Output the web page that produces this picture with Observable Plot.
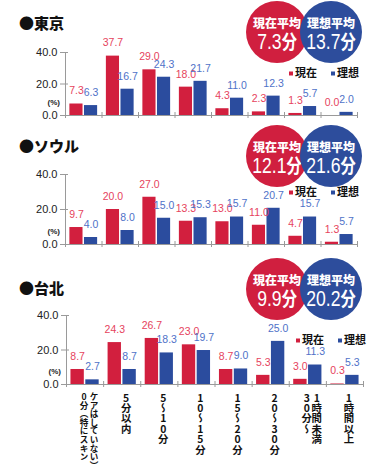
<!DOCTYPE html>
<html><head><meta charset="utf-8">
<script src="https://cdn.jsdelivr.net/npm/d3@7"></script>
<script src="https://cdn.jsdelivr.net/npm/@observablehq/plot@0.6"></script>
<style>
body{margin:0;background:#fff;}
#root{position:relative;width:372px;height:472px;overflow:hidden;font-family:"Liberation Sans","Noto Sans CJK JP",sans-serif;}
.panel{position:absolute;left:0;}
.panel svg{overflow:visible;}
.title{position:absolute;left:19px;font:900 15px "Noto Sans CJK JP";color:#111;line-height:1;transform:translateY(-50%);white-space:nowrap;}
.circle{position:absolute;width:62px;height:62px;border-radius:50%;}
.clabel{position:absolute;left:-10px;right:-10px;text-align:center;color:#fff;font:900 12px "Noto Sans CJK JP";line-height:1;transform:translateY(-50%);white-space:nowrap;}
.cnum{position:absolute;left:-20px;right:-20px;text-align:center;color:#fff;font:22px "Liberation Sans","Noto Sans CJK JP";line-height:1;transform:translateY(-50%) scaleX(0.8);white-space:nowrap;}
.cnum span{font-family:"Noto Sans CJK JP";font-weight:700;font-size:19px;}
.legend{position:absolute;font:700 11px "Noto Sans CJK JP";color:#111;line-height:1;transform:translateY(-50%);white-space:nowrap;}
.legend i{display:inline-block;width:4px;height:4px;margin-right:2px;vertical-align:middle;}
</style>
</head><body>
<div id="root"></div>
<script>
// ---- data ----
const categories = ["0分（特にスキンケアはしていない）", "5分以内", "5～10分", "10～15分", "15～20分", "20～30分", "30分～1時間未満", "1時間以上"];
const categoryLabelColumns = [["0分（特にスキン", "ケアはしていない）"], ["5分以内"], ["5～10分"], ["10～15分"], ["15～20分"], ["20～30分"], ["30分～", "1時間未満"], ["1時間以上"]];
const series = ["現在", "理想"];
const cities = ["東京", "ソウル", "台北"];
const tokyoCurrent = [7.3, 37.7, 29.0, 18.0, 4.3, 2.3, 1.3, 0.0];
const tokyoIdeal   = [6.3, 16.7, 24.3, 21.7, 11.0, 12.3, 5.7, 2.0];
const seoulCurrent = [9.7, 20.0, 27.0, 13.3, 13.0, 11.0, 4.7, 1.3];
const seoulIdeal   = [4.0, 8.0, 15.0, 15.3, 15.7, 20.7, 15.7, 5.7];
const taipeiCurrent = [8.7, 24.3, 26.7, 23.0, 8.7, 5.3, 3.0, 0.3];
const taipeiIdeal   = [2.7, 8.7, 18.3, 19.7, 9.0, 25.0, 11.3, 5.3];
const averageCurrent = [7.3, 12.1, 9.9];
const averageIdeal = [13.7, 21.6, 20.2];
const yTicks = [0, 20, 40];
const averageLabels = ["現在平均", "理想平均"];
const unit = "分";

// ---- styles ----
const barColors = {"現在": "#d21f3e", "理想": "#2b4c9e"};
const valueColors = {"現在": "#e6435d", "理想": "#4f72c8"};
const circleColors = ["#d01f3f", "#2d4d9c"];
const axisColor = "#9a9a9a";

const layouts = [
  {top: 0, height: 130, marginTop: 52, marginBottom: 15, marginLeft: 65, marginRight: 15, titleY: 22, circleY: 32, legendX: 289, legendY: 72},
  {top: 130, height: 130, marginTop: 44, marginBottom: 16, marginLeft: 65, marginRight: 15, titleY: 145, circleY: 156, legendX: 289, legendY: 191},
  {top: 260, height: 212, marginTop: 55, marginBottom: 88, marginLeft: 66, marginRight: 9, titleY: 287, circleY: 289, legendX: 296, legendY: 339}
];
const cityValues = [[tokyoCurrent, tokyoIdeal], [seoulCurrent, seoulIdeal], [taipeiCurrent, taipeiIdeal]];

const root = document.getElementById("root");
const inner = d3.scaleBand(series, [0, 1]).paddingInner(0.1).paddingOuter(0.3);

cities.forEach((city, k) => {
  const L = layouts[k];
  const [cur, ide] = cityValues[k];
  const rows = categories.flatMap((c, i) => series.map((s, j) => {
    const value = (j === 0 ? cur : ide)[i];
    const x1 = i + inner(s);
    return {category: c, i, series: s, value, x1, x2: x1 + inner.bandwidth(), xm: x1 + inner.bandwidth() / 2};
  }));
  const marks = [
    Plot.ruleX([0], {y1: 0, y2: 40, stroke: axisColor}),
    Plot.ruleY(yTicks, {x1: 0, x2: 0, insetLeft: -5, insetRight: -3, stroke: axisColor}),
    Plot.ruleY([0], {stroke: axisColor}),
    Plot.ruleX(d3.range(categories.length + 1), {y1: 0, y2: 0, insetTop: -3, insetBottom: -3, stroke: axisColor}),
    Plot.rectY(rows, {x1: "x1", x2: "x2", y1: 0, y2: "value", fill: d => barColors[d.series]}),
    Plot.text(rows, {x: "xm", y: "value", text: d => d.value.toFixed(1), dy: -13, fill: d => valueColors[d.series], fontSize: 10.5}),
    Plot.axisY({ticks: yTicks, tickSize: 0, tickPadding: 8, tickFormat: d => d.toFixed(1), fontSize: 11, fill: "#222", label: null}),
    Plot.text(["(%)"], {frameAnchor: "bottom-left", dx: -18, dy: -11, fontSize: 8, fontWeight: "bold", fill: "#222"})
  ];
  if (k === cities.length - 1) {
    const labelRows = categoryLabelColumns.flatMap((cols, i) => cols.map((text, j) => ({i, text, off: cols.length === 1 ? 4 : j * 10 - 1})));
    for (const off of [-1, 4, 9]) {
      marks.push(Plot.text(labelRows.filter(d => d.off === off), {
        x: d => d.i + 0.5, text: "text", frameAnchor: "bottom", dy: 8, dx: off,
        textAnchor: "start", lineAnchor: "bottom", fontSize: d => d.i === 0 ? 8.6 : 10.4, fontWeight: "bold", fill: "#111",
        ariaDescription: "category labels"
      }));
    }
  }
  const svg = Plot.plot({
    width: 372, height: L.height,
    marginTop: L.marginTop, marginBottom: L.marginBottom, marginLeft: L.marginLeft, marginRight: L.marginRight,
    x: {domain: [0, categories.length], axis: null},
    y: {domain: [0, 40], axis: null},
    style: {fontFamily: "'Liberation Sans', 'Noto Sans CJK JP', sans-serif", fontSize: "10px", background: "transparent", overflow: "visible"},
    marks
  });
  svg.querySelectorAll('g[aria-description="category labels"] text').forEach(t => {
    t.style.writingMode = "vertical-rl";
    t.style.textOrientation = "upright";
    t.style.fontFamily = "'Noto Sans CJK JP'";
  });
  const wrap = document.createElement("div");
  wrap.className = "panel";
  wrap.style.top = L.top + "px";
  wrap.appendChild(svg);
  root.appendChild(wrap);

  const title = document.createElement("div");
  title.className = "title";
  title.style.top = L.titleY + "px";
  title.textContent = "●" + city;
  root.appendChild(title);

  [averageCurrent[k], averageIdeal[k]].forEach((v, j) => {
    const c = document.createElement("div");
    c.className = "circle";
    c.style.background = circleColors[j];
    c.style.left = (j === 0 ? 277 : 331) - 31 + "px";
    c.style.top = L.circleY - 31 + "px";
    c.innerHTML = `<div class="clabel" style="top:22px">${averageLabels[j]}</div><div class="cnum" style="top:41px">${v.toFixed(1)}<span>${unit}</span></div>`;
    root.appendChild(c);
  });

  const lg = document.createElement("div");
  lg.className = "legend";
  lg.style.left = L.legendX + "px";
  lg.style.top = L.legendY + "px";
  lg.innerHTML = `<i style="background:${barColors[series[0]]}"></i>${series[0]}<span style="display:inline-block;width:14px"></span><i style="background:${barColors[series[1]]}"></i>${series[1]}`;
  root.appendChild(lg);
});
</script>
</body></html>
